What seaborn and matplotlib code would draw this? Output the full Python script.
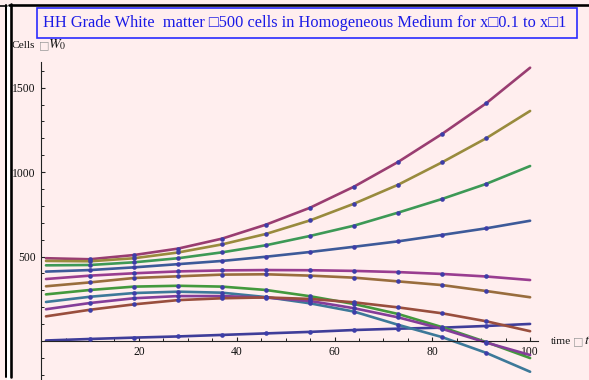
import colorsys
import numpy as np
import pandas as pd
import matplotlib
matplotlib.use("Agg")
import matplotlib.pyplot as plt
import seaborn as sns
from matplotlib.lines import Line2D
from matplotlib.patches import Rectangle
from matplotlib.ticker import MultipleLocator, NullFormatter

# time grid of the solution curves (days)
time = [1, 10, 19, 28, 37, 46, 55, 64, 73, 82, 91, 100]
sample_times = [10, 19, 28, 37, 46, 55, 64, 73, 82, 91]

# cell counts of each curve, in plotting order
c01 = [3, 12, 20, 27, 36, 45, 54, 65, 73, 79, 89, 101]
c02 = [490, 484, 509, 547, 606, 689, 789, 914, 1060, 1226, 1407, 1618]
c03 = [474, 472, 490, 524, 572, 634, 714, 813, 925, 1058, 1200, 1362]
c04 = [448, 450, 466, 490, 525, 567, 622, 683, 760, 841, 930, 1036]
c05 = [411, 420, 436, 455, 474, 499, 527, 558, 590, 628, 667, 712]
c06 = [367, 387, 401, 412, 418, 420, 419, 415, 408, 397, 382, 361]
c07 = [324, 347, 373, 383, 393, 395, 387, 375, 353, 331, 296, 259]
c08 = [276, 302, 322, 327, 322, 302, 265, 219, 160, 82, -6, -101]
c09 = [231, 262, 284, 292, 286, 260, 223, 174, 96, 23, -70, -182]
c10 = [188, 225, 253, 266, 266, 257, 237, 194, 140, 72, -9, -83]
c11 = [146, 185, 217, 242, 253, 258, 249, 229, 199, 164, 117, 58]

curves = [c01, c02, c03, c04, c05, c06, c07, c08, c09, c10, c11]
names = [f"c{i + 1:02d}" for i in range(len(curves))]

frames = [pd.DataFrame({"time": time, "cells": vals, "curve": nm})
          for nm, vals in zip(names, curves)]
df = pd.concat(frames, ignore_index=True)
pts = df[df["time"].isin(sample_times)]

# classic Mathematica plot-style colours: golden-ratio hue steps
hues = [(0.67 + k * 0.236068) % 1.0 for k in range(len(curves))]
palette = {nm: colorsys.hsv_to_rgb(h, 0.6, 0.6) for nm, h in zip(names, hues)}
dot_color = (0.24, 0.24, 0.66)

bg = "#FFEEEE"
serif = ["Liberation Serif", "DejaVu Serif"]

sns.set_theme(style="white")
plt.rcParams["font.family"] = serif
plt.rcParams["mathtext.fontset"] = "stix"

W, H = 589, 380
fig = plt.figure(figsize=(W / 100, H / 100), dpi=100, facecolor=bg)

# axes placed so that the origin sits at pixel (41, 341)
x0, y0 = 41.1, 341.0
sx, sy = 4.89, 0.1689
xmin, xmax = 0.0, 101.6
ymin, ymax = -230.0, 1654.0
left = (x0 + sx * xmin) / W
right = (x0 + sx * xmax) / W
top = 1 - (y0 - sy * ymax) / H
bottom = 1 - (y0 - sy * ymin) / H
ax = fig.add_axes([left, bottom, right - left, top - bottom])
ax.set_facecolor("none")

sns.lineplot(data=df, x="time", y="cells", hue="curve", palette=palette,
             estimator=None, sort=False, linewidth=1.9, legend=False, ax=ax)
sns.scatterplot(data=pts, x="time", y="cells", color=dot_color, s=11,
                linewidth=0, legend=False, ax=ax, zorder=5)

ax.set_xlim(xmin, xmax)
ax.set_ylim(ymin, ymax)
ax.set_xlabel("")
ax.set_ylabel("")

for side in ("top", "right"):
    ax.spines[side].set_visible(False)
for side in ("left", "bottom"):
    ax.spines[side].set_position(("data", 0))
    ax.spines[side].set_color("#222222")
    ax.spines[side].set_linewidth(0.8)

ax.set_xticks([20, 40, 60, 80, 100])
ax.set_yticks([500, 1000, 1500])
ax.xaxis.set_minor_locator(MultipleLocator(5))
ax.yaxis.set_minor_locator(MultipleLocator(100))
ax.xaxis.set_minor_formatter(NullFormatter())
ax.yaxis.set_minor_formatter(NullFormatter())
ax.tick_params(which="major", direction="in", length=3.2, width=0.8,
               color="#222222", labelsize=8.4, labelcolor="#111111")
ax.tick_params(which="minor", direction="in", length=2.0, width=0.7,
               color="#222222")
ax.tick_params(axis="x", pad=3.5)
ax.tick_params(axis="y", pad=4.0)
ax.tick_params(left=True, bottom=True, which="both")

# axis captions
fig.text(12 / W, 1 - 45 / H, "Cells", fontsize=8.2, color="#111111",
         ha="left", va="center")
fig.text(39 / W, 1 - 45 / H, "\u25a1", fontsize=8, color="#999999",
         ha="left", va="center", family=["DejaVu Sans"])
fig.text(48 / W, 1 - 45 / H, "$W_0$", fontsize=10, color="#111111",
         ha="left", va="center")
fig.text(551 / W, 1 - 341 / H, "time", fontsize=8.2, color="#111111",
         ha="left", va="center")
fig.text(573 / W, 1 - 341 / H, "\u25a1", fontsize=8, color="#999999",
         ha="left", va="center", family=["DejaVu Sans"])
fig.text(584 / W, 1 - 341 / H, "$t$", fontsize=10, color="#111111",
         ha="left", va="center")

# framed title
fig.add_artist(Rectangle((37 / W, 1 - 37.5 / H), 540 / W, 29.5 / H,
                         transform=fig.transFigure, fill=False,
                         edgecolor="#2B2BFF", linewidth=1.2))
fig.text(305 / W, 1 - 23 / H,
         "HH Grade White  matter \u25a1500 cells in Homogeneous Medium "
         "for x\u25a10.1 to x\u25a11",
         fontsize=11.8, color="#1A1AE6", ha="center", va="center",
         family=serif + ["DejaVu Sans"])

# notebook cell brackets
fig.add_artist(Rectangle((7 / W, 0), 2.5 / W, 1 - 5 / H,
                         transform=fig.transFigure, color="white", lw=0))
for xs, ys, lw in [((6 / W, 6 / W), (3 / H, 1 - 5 / H), 2.0),
                   ((10.5 / W, 10.5 / W), (3 / H, 1 - 4 / H), 2.6),
                   ((9 / W, 1.0), (1 - 4.5 / H, 1 - 4.5 / H), 2.6),
                   ((0, 7 / W), (1 - 6 / H, 1 - 6 / H), 1.6)]:
    fig.add_artist(Line2D(xs, ys, transform=fig.transFigure,
                          color="black", linewidth=lw * 0.72))

fig.savefig("out.png", dpi=100, facecolor=bg)
